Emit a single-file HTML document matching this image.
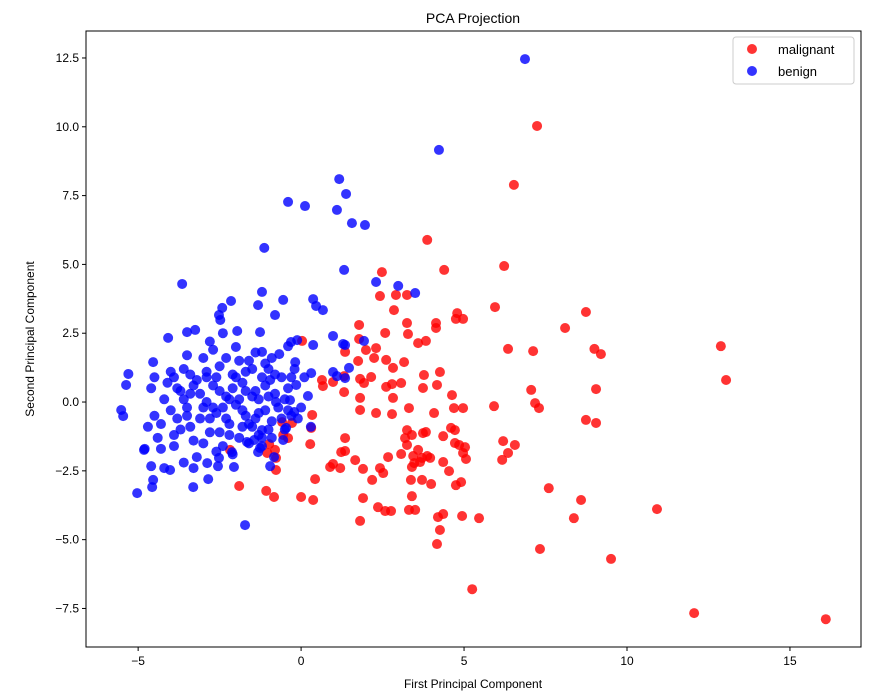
<!DOCTYPE html>
<html><head><meta charset="utf-8"><style>
body{margin:0;background:#fff;font-family:"Liberation Sans","DejaVu Sans",sans-serif}
svg{display:block}
</style></head><body>
<svg id="chart" width="882" height="697" viewBox="0 0 882 697" xmlns="http://www.w3.org/2000/svg">
<rect width="882" height="697" fill="#fff"/>
<text x="473" y="23" text-anchor="middle" font-size="14" fill="#000">PCA Projection</text>
<g id="marks"></g>
<rect x="86" y="31" width="775" height="616" fill="none" stroke="#000" stroke-width="1"/>
<g id="ticks"></g>
<text x="473" y="688" text-anchor="middle" font-size="12">First Principal Component</text>
<text x="34" y="339" text-anchor="middle" font-size="12" transform="rotate(-90 34 339)">Second Principal Component</text>
<g>
<rect x="733" y="37" width="121" height="47" rx="3" fill="#fff" fill-opacity="0.8" stroke="#ccc"/>
<g><circle cx="752" cy="49" r="5" fill="rgba(255,0,0,0.8)"/><text x="778" y="54" font-size="13">malignant</text></g>
<g><circle cx="752" cy="71" r="5" fill="rgba(0,0,255,0.8)"/><text x="778" y="76" font-size="13">benign</text></g>
</g>
</svg>
<script>
const xTicks=[-5,0,5,10,15];
const yTicks=[-7.5,-5,-2.5,0,2.5,5,7.5,10,12.5];
const yTickLabels=["−7.5","−5.0","−2.5","0.0","2.5","5.0","7.5","10.0","12.5"];
const xTickLabels=["−5","0","5","10","15"];
const malignantX=[7.24,6.53,3.87,2.48,4.39,6.23,12.88,13.04,16.1,12.06,10.92,9.51,7.33,5.25,8.74,8.1,9.0,9.2,9.05,9.05,8.74,7.12,6.35,5.95,7.06,7.18,7.3,5.92,6.2,6.35,6.56,6.17,7.6,8.59,8.37,5.46,4.94,4.2,4.26,4.17,4.36,4.97,4.69,4.63,4.17,4.08,3.74,3.77,4.26,4.14,4.14,4.79,4.97,4.75,3.83,3.59,3.25,3.28,3.25,2.91,2.85,2.42,2.82,3.16,2.58,2.3,2.24,2.61,3.07,2.79,2.82,2.61,2.15,1.81,1.93,1.81,1.81,2.3,2.79,3.31,1.75,1.78,1.78,1.99,1.35,1.32,1.32,0.67,0.64,0.98,0.03,0.34,0.31,0.28,0.37,0.0,0.43,-0.28,-0.4,-0.55,-0.58,-0.8,-0.77,-0.77,-0.83,-1.07,-1.9,-0.98,-1.04,-2.18,1.35,1.23,1.35,0.98,0.89,1.2,1.66,1.9,2.18,2.42,2.52,2.67,2.36,2.58,2.76,1.9,1.81,3.07,3.19,3.25,3.25,3.4,3.44,3.4,3.59,3.47,3.65,3.74,3.83,3.87,3.71,3.96,3.99,3.71,3.37,3.4,3.31,3.5,4.36,4.36,4.6,4.72,4.72,4.85,5.03,4.97,5.06,4.75,4.91,4.54];
const malignantY=[10.03,7.89,5.89,4.72,4.8,4.94,2.03,0.8,-7.89,-7.67,-3.89,-5.7,-5.34,-6.8,3.27,2.69,1.93,1.74,0.47,-0.76,-0.65,1.85,1.93,3.45,0.44,-0.04,-0.22,-0.15,-1.42,-1.85,-1.56,-2.1,-3.13,-3.56,-4.22,-4.22,-4.14,-4.18,-4.65,-5.16,-4.07,-0.22,-0.22,0.25,0.62,-0.4,0.51,0.98,1.09,2.87,2.69,3.23,3.02,3.02,2.22,2.14,2.87,2.47,3.89,3.89,3.34,3.85,1.24,1.45,2.51,1.96,1.6,1.53,0.69,0.65,0.15,0.55,0.91,0.84,0.69,0.15,-0.29,-0.4,-0.44,-0.22,1.49,2.8,2.29,1.89,1.82,0.36,0.94,0.58,0.8,0.73,2.22,-0.47,-0.94,-1.53,-3.56,-3.45,-2.8,-0.76,-1.31,-1.2,-0.73,-1.74,-2.03,-2.47,-3.45,-3.23,-3.05,-1.53,-1.85,-1.74,-1.31,-1.82,-1.78,-2.25,-2.36,-2.4,-2.11,-2.43,-2.83,-2.4,-2.58,-2.0,-3.82,-3.96,-3.96,-3.49,-4.32,-1.89,-1.31,-1.02,-1.56,-1.2,-1.96,-2.36,-1.74,-2.22,-2.18,-1.13,-1.09,-1.96,-2.03,-2.03,-2.98,-2.83,-2.83,-3.42,-3.92,-3.92,-2.18,-1.24,-0.94,-1.02,-1.49,-1.56,-1.64,-1.85,-2.07,-3.02,-2.91,-2.51];
const benignX=[6.87,4.23,1.17,1.38,1.1,1.56,1.96,-0.4,0.12,-1.13,1.32,2.3,2.98,3.5,-3.65,-1.2,-0.55,0.37,0.46,0.67,-2.15,-2.42,-1.32,-0.8,-2.52,-2.48,-3.25,-3.5,-1.26,-1.96,-4.08,-0.31,-0.4,-0.12,0.37,1.29,0.98,1.93,1.35,-5.3,-5.37,-5.52,-5.46,-5.03,-1.72,-4.54,-4.6,-4.57,-4.82,-3.31,-2.85,-4.02,-4.54,-0.77,-0.34,0.21,0.98,1.35,1.47,1.1,0.31,-0.18,-0.67,-1.2,-0.95,-0.15,-0.21,-0.46,-0.55,-1.2,-1.44,-1.26,-0.83,-0.95,-1.32,-1.66,-2.12,-2.52,-2.55,-2.06,-2.88,
-4.5,-4.3,-4.2,-4.0,-3.9,-3.8,-3.7,-3.6,-3.5,-3.4,-3.3,-3.2,-3.1,-3.0,-2.9,-2.8,-2.7,-2.6,-2.5,-2.4,-2.3,-2.2,-2.1,-2.0,-1.9,-1.8,-1.7,-1.6,-1.5,-1.4,-1.3,-1.2,-1.1,-1.0,-0.9,-0.8,
-4.6,-4.4,-4.1,-3.9,-3.8,-3.6,-3.5,-3.4,-3.3,-3.2,-3.0,-2.9,-2.8,-2.7,-2.6,-2.5,-2.4,-2.3,-2.2,-2.1,-2.0,-1.9,-1.8,-1.7,-1.6,-1.5,-1.4,-1.3,-1.2,-1.1,-1.0,-0.9,-0.7,-0.6,-0.5,-0.4,-0.3,-0.2,0.0,0.1,0.3,
-4.8,-4.7,-4.5,-4.3,-4.2,-4.0,-3.9,-3.7,-3.6,-3.5,-3.4,-3.3,-3.1,-3.0,-2.9,-2.8,-2.7,-2.6,-2.5,-2.4,-2.3,-2.2,-2.1,-2.0,-1.9,-1.8,-1.7,-1.6,-1.5,-1.4,-1.3,-1.2,-1.1,-1.0,-0.9,-0.8,-0.6,-0.5,-0.4,-0.3,-0.1];
const benignY=[12.46,9.16,8.1,7.56,6.98,6.5,6.43,7.27,7.12,5.6,4.8,4.36,4.22,3.96,4.29,4.0,3.71,3.74,3.49,3.34,3.67,3.42,3.52,3.16,3.16,2.98,2.62,2.54,2.54,2.58,2.33,2.18,2.03,2.25,2.07,2.11,2.4,2.22,2.07,1.02,0.62,-0.29,-0.51,-3.31,-4.47,-2.83,-2.33,-3.09,-1.74,-3.09,-2.8,-2.47,1.45,0,0.07,0.22,1.09,0.87,1.24,0.94,1.05,1.45,1.74,1.82,0.8,0.62,-0.36,-0.94,-1.38,-1.02,-1.38,-1.67,-2.0,-2.33,-1.82,-1.45,-1.82,-2.03,-2.33,-2.36,-2.22,
-0.5,-0.8,0.1,-0.3,0.9,0.5,-1.0,1.2,-0.2,0.3,-1.4,0.8,-0.6,1.6,0.0,-1.1,0.6,-0.4,1.3,-1.6,0.2,-0.8,1.0,-0.1,-1.3,0.7,-0.5,1.5,-0.9,0.4,-1.2,0.9,-0.3,1.2,-0.7,0.3,
0.5,-1.3,0.7,-1.6,-0.6,0.1,1.7,-0.9,0.6,-2.0,-0.2,1.1,-0.6,1.9,-1.8,0.4,-0.2,1.6,-1.2,0.5,2.0,0.1,-0.9,1.1,-1.5,0.2,1.8,-0.4,-1.6,0.6,-1.0,1.6,-0.2,0.9,-1.0,0.5,-0.5,1.2,-0.2,0.9,-0.9,
-1.7,-0.9,0.9,-1.7,-2.4,1.1,-1.2,0.4,-2.2,-0.5,1.0,-2.4,0.3,-1.5,0.9,2.2,-0.2,0.9,-1.1,2.5,-0.6,0.1,-1.9,0.9,1.5,-0.3,0.4,-0.8,1.2,-0.6,0.1,-1.3,1.4,0.2,-1.3,1.0,-0.6,0.1,-0.3,0.9,-0.6];

const X0=-6.6,X1=17.18,Y0=-8.9,Y1=13.48,L=86,R=861,T=31,B=647;
const sx=v=>L+(v-X0)/(X1-X0)*(R-L);
const sy=v=>B-(v-Y0)/(Y1-Y0)*(B-T);
const NS="http://www.w3.org/2000/svg";
const marks=document.getElementById('marks');
const ticks=document.getElementById('ticks');
function dot(x,y,fill,name){
  const c=document.createElementNS(NS,'circle');
  c.setAttribute('cx',sx(x));c.setAttribute('cy',sy(y));c.setAttribute('r',5);
  c.setAttribute('fill',fill);
  
  
  marks.appendChild(c);
}
for(let i=0;i<malignantX.length;i++) dot(malignantX[i],malignantY[i],'rgba(255,0,0,0.8)','malignant-point');
for(let i=0;i<benignX.length;i++) dot(benignX[i],benignY[i],'rgba(0,0,255,0.8)','benign-point');
xTicks.forEach((v,i)=>{
  const x=sx(v);
  const l=document.createElementNS(NS,'line');
  l.setAttribute('x1',x);l.setAttribute('x2',x);l.setAttribute('y1',B);l.setAttribute('y2',B+4);l.setAttribute('stroke','#000');
  
  
  ticks.appendChild(l);
  const t=document.createElementNS(NS,'text');
  t.setAttribute('x',x);t.setAttribute('y',B+18);t.setAttribute('text-anchor','middle');t.setAttribute('font-size','12');
  t.textContent=xTickLabels[i];
  
  
  ticks.appendChild(t);
});
yTicks.forEach((v,i)=>{
  const y=sy(v);
  const l=document.createElementNS(NS,'line');
  l.setAttribute('x1',L-4);l.setAttribute('x2',L);l.setAttribute('y1',y);l.setAttribute('y2',y);l.setAttribute('stroke','#000');
  
  
  ticks.appendChild(l);
  const t=document.createElementNS(NS,'text');
  t.setAttribute('x',L-7);t.setAttribute('y',y+4);t.setAttribute('text-anchor','end');t.setAttribute('font-size','12');
  t.textContent=yTickLabels[i];
  
  
  ticks.appendChild(t);
});
</script>
</body></html>
